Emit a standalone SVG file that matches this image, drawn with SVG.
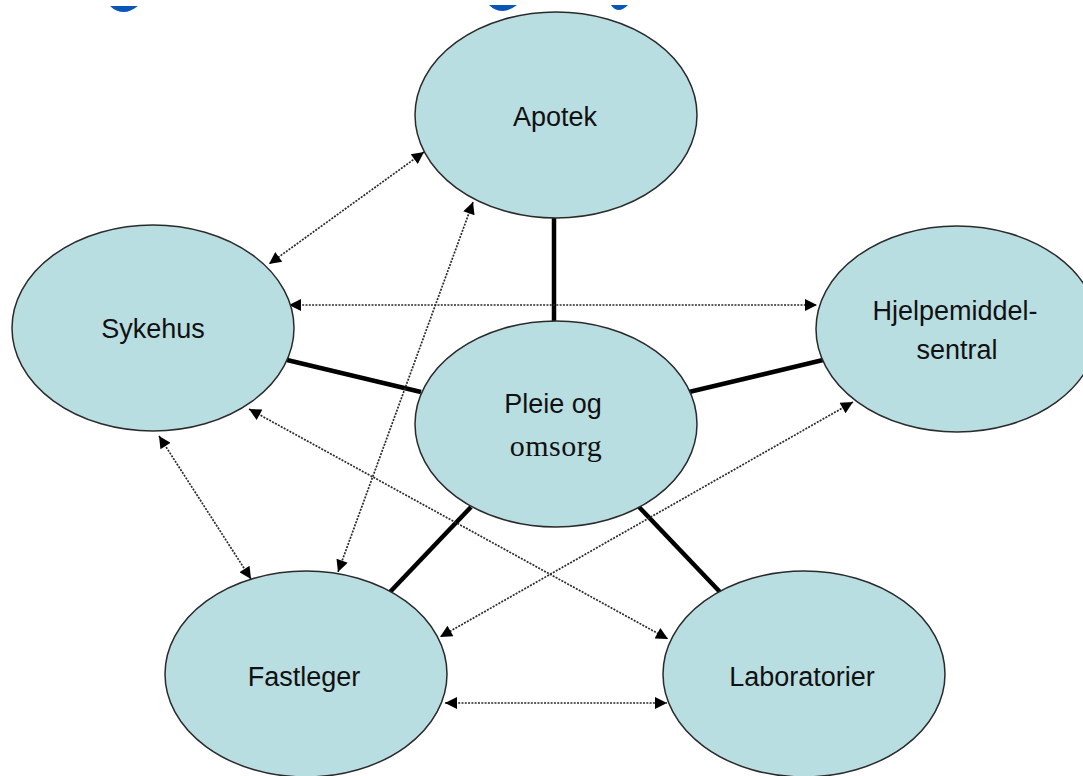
<svg xmlns="http://www.w3.org/2000/svg" width="1083" height="776" viewBox="0 0 1083 776">
<style>
.node ellipse{fill:#b9dee2;stroke:#2a2a2a;stroke-width:1.5}
.lbl{font-family:"Liberation Sans",Arial,sans-serif;font-size:27px;fill:#111;text-anchor:middle}
.serif{font-family:"Liberation Serif","Times New Roman",serif;font-size:30px;fill:#111;text-anchor:middle;letter-spacing:0.5px}
.thick{stroke:#000;stroke-width:4.5;fill:none}
.dot{stroke:#2a2a2a;stroke-width:1.7;stroke-dasharray:2 1.3;fill:none;marker-start:url(#ah);marker-end:url(#ah)}
.frag{fill:#0a55b8}
</style>
<defs>
<marker id="ah" viewBox="0 0 10 10" refX="10" refY="5" markerWidth="15" markerHeight="12" markerUnits="userSpaceOnUse" orient="auto-start-reverse">
<path d="M0,0 L10,5 L0,10 z" fill="#000"/>
</marker>
</defs>
<rect width="1083" height="776" fill="#fff"/>
<g id="title-fragments">
<path class="frag" d="M110,6 L138,6 Q130,12 124,12 Q116,12 110,6 z"/>
<path class="frag" d="M489,5 L517,5 Q509,11 503,11 Q495,11 489,5 z"/>
<path class="frag" d="M611,5 L628,5 Q623,10 619,10 Q614,10 611,5 z"/>
</g>
<g id="connectors">
<line class="thick" x1="554" y1="217" x2="554" y2="322"/>
<line class="thick" x1="287" y1="360" x2="421" y2="392"/>
<line class="thick" x1="689" y1="392" x2="823" y2="360"/>
<line class="thick" x1="471" y1="507" x2="390" y2="592"/>
<line class="thick" x1="639" y1="507" x2="720" y2="592"/>
<line class="dot" x1="424" y1="152" x2="269" y2="264"/>
<line class="dot" x1="289" y1="305" x2="817" y2="305"/>
<line class="dot" x1="473" y1="202" x2="338" y2="572"/>
<line class="dot" x1="159" y1="436" x2="251" y2="579"/>
<line class="dot" x1="249" y1="409" x2="668" y2="639"/>
<line class="dot" x1="853" y1="402" x2="440" y2="637"/>
<line class="dot" x1="445" y1="703" x2="667" y2="703"/>
</g>
<g id="apotek" class="node">
<ellipse cx="556" cy="115" rx="141" ry="103"/>
<text class="lbl" x="555" y="126">Apotek</text>
</g>
<g id="sykehus" class="node">
<ellipse cx="153" cy="328" rx="141" ry="103"/>
<text class="lbl" x="153" y="338">Sykehus</text>
</g>
<g id="hjelpemiddelsentral" class="node">
<ellipse cx="957" cy="329" rx="141" ry="103"/>
<text class="lbl" x="955" y="320">Hjelpemiddel-</text>
<text class="lbl" x="957" y="359">sentral</text>
</g>
<g id="pleie" class="node">
<ellipse cx="556" cy="424" rx="141" ry="103"/>
<text class="lbl" x="553" y="413">Pleie og</text>
<text class="serif" x="556" y="456">omsorg</text>
</g>
<g id="fastleger" class="node">
<ellipse cx="306" cy="674" rx="141" ry="103"/>
<text class="lbl" x="304" y="686">Fastleger</text>
</g>
<g id="laboratorier" class="node">
<ellipse cx="804" cy="674" rx="141" ry="103"/>
<text class="lbl" x="802" y="686">Laboratorier</text>
</g>
</svg>
